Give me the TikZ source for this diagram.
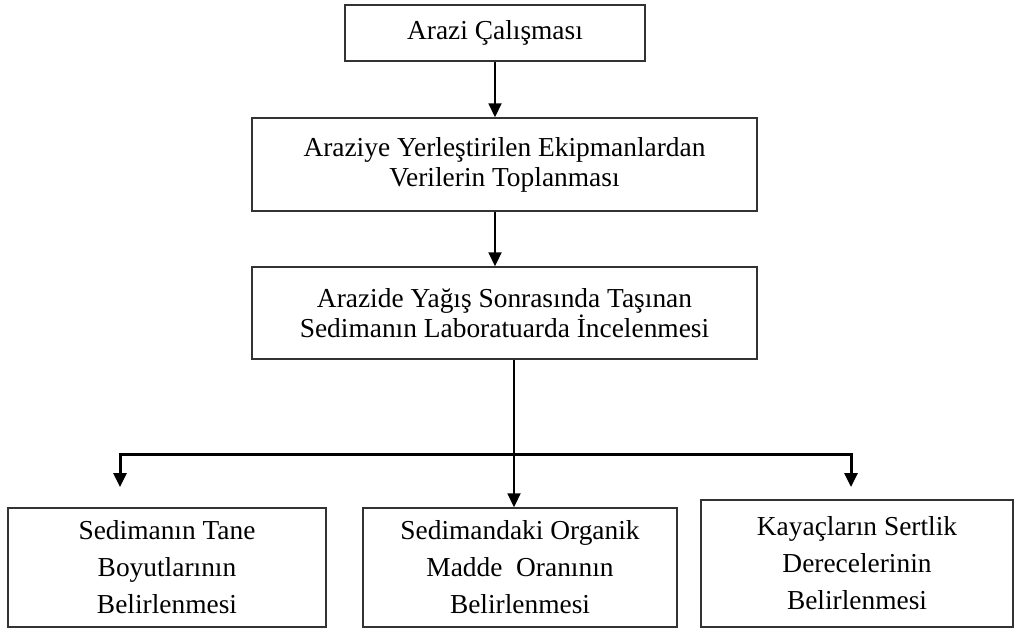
\documentclass[tikz,border=0pt]{standalone}
\usepackage{fontspec}
\setmainfont{Liberation Serif}
\usetikzlibrary{arrows.meta, positioning}

\begin{document}
\begin{tikzpicture}[x=1pt, y=-1pt,
    kutu/.style={draw=black!80, line width=1.4pt, align=center, inner sep=0pt,
        font=\fontsize{27.4}{30}\selectfont},
    altkutu/.style={kutu, font=\fontsize{27.4}{37}\selectfont},
    ok/.style={line width=1.8pt, -{Triangle[width=13pt,length=14pt]}}]
    \useasboundingbox (0,0) rectangle (1014,628);

    % ust kutular
    \node[kutu, minimum width=300pt, minimum height=56pt] (saha) at (495,33)
        {Arazi Çalışması};
    \node[kutu, minimum width=505pt, minimum height=93pt] (veri) at (504.5,164.5)
        {Araziye Yerleştirilen Ekipmanlardan\\Verilerin Toplanması};
    \node[kutu, minimum width=505pt, minimum height=92pt] (sediman) at (504.5,313)
        {Arazide Yağış Sonrasında Taşınan\\Sedimanın Laboratuarda İncelenmesi};

    % alt kutular
    \node[altkutu, minimum width=318pt, minimum height=119pt] (tane) at (167,567.5)
        {Sedimanın Tane\\Boyutlarının\\Belirlenmesi};
    \node[altkutu, minimum width=314pt, minimum height=119pt] (organik) at (520,567.5)
        {Sedimandaki Organik\\Madde\ \ Oranının\\Belirlenmesi};
    \node[altkutu, minimum width=312pt, minimum height=127pt] (sertlik) at (857,563.5)
        {Kayaçların Sertlik\\Derecelerinin\\Belirlenmesi};

    % oklar
    \draw[ok] (saha.south) -- (saha.south |- veri.north);
    \draw[ok] (saha.south |- veri.south) -- (saha.south |- sediman.north);

    \coordinate (ayrim) at (514,0);
    \draw[ok] (sediman.south -| ayrim) -- (organik.north -| ayrim);

    \coordinate (solok) at (120,487);
    \coordinate (kol) at (851,454);
    \coordinate (sagok) at (851,487);
    \draw[line width=3pt, {Triangle[width=13pt,length=14pt]}-{Triangle[width=13pt,length=14pt]}]
        (solok) |- (kol) -- (sagok);
\end{tikzpicture}
\end{document}
